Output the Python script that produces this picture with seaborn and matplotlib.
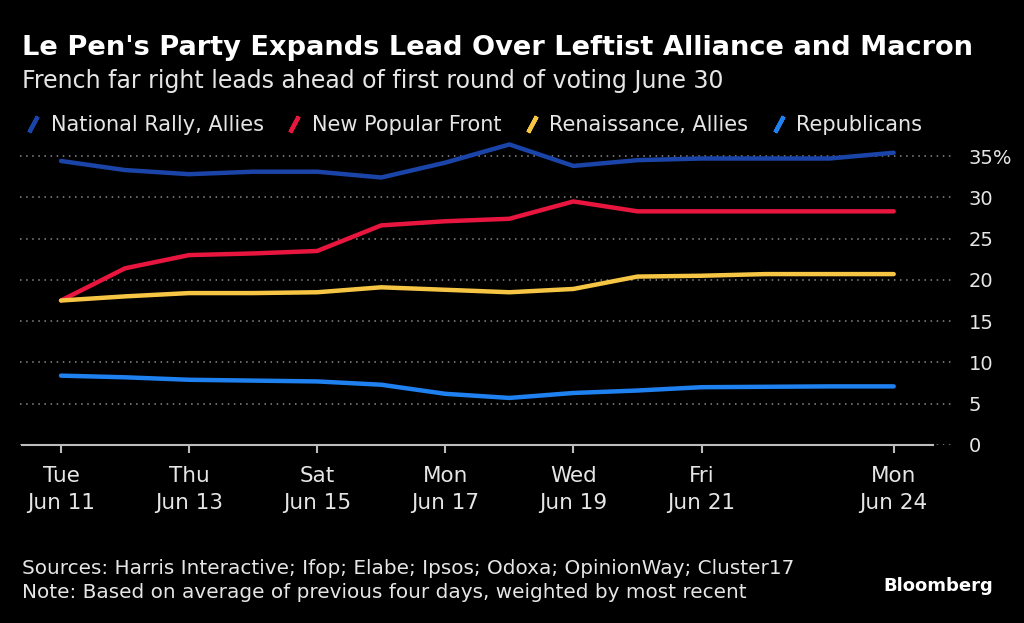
import numpy as np
import pandas as pd
import seaborn as sns
import matplotlib.pyplot as plt
import matplotlib.dates as mdates
from matplotlib.lines import Line2D

#%% data (poll average, %)
dates = pd.date_range("2024-06-11", "2024-06-24", freq="D")
national_rally = [34.4, 33.3, 32.8, 33.1, 33.1, 32.4, 34.2, 36.4, 33.8, 34.5, 34.7, 34.7, 34.7, 35.4]
new_popular_front = [17.5, 21.4, 23.0, 23.2, 23.5, 26.6, 27.1, 27.4, 29.5, 28.3, 28.3, 28.3, 28.3, 28.3]
renaissance = [17.5, 18.0, 18.4, 18.4, 18.5, 19.1, 18.8, 18.5, 18.9, 20.4, 20.5, 20.7, 20.7, 20.7]
republicans = [8.4, 8.2, 7.9, 7.8, 7.7, 7.3, 6.2, 5.7, 6.3, 6.6, 7.0, 7.05, 7.1, 7.1]

series = ["National Rally, Allies", "New Popular Front", "Renaissance, Allies", "Republicans"]
colors = ["#1b44a8", "#e8163f", "#f6c544", "#1f80f0"]
tick_dates = ["2024-06-11", "2024-06-13", "2024-06-15", "2024-06-17",
              "2024-06-19", "2024-06-21", "2024-06-24"]
y_ticks = [0, 5, 10, 15, 20, 25, 30, 35]

df = pd.DataFrame({
    "date": np.tile(dates, 4),
    "party": np.repeat(series, len(dates)),
    "value": national_rally + new_popular_front + renaissance + republicans,
})

#%% styling
sns.set_theme(style="dark")
plt.rcParams["font.family"] = ["DejaVu Sans"]
bg = "black"
txt = "#e6e6e6"

fig = plt.figure(figsize=(10.24, 6.23), dpi=100, facecolor=bg)
ax = fig.add_axes([20 / 1024, 1 - 445 / 623, 932 / 1024, 305 / 623])
ax.set_facecolor(bg)

sns.lineplot(data=df, x="date", y="value", hue="party", hue_order=series,
             palette=dict(zip(series, colors)), linewidth=3.2, legend=False,
             ax=ax, zorder=3)

# axes limits
x0 = mdates.date2num(dates[0])
x1 = mdates.date2num(dates[-1])
ax.set_xlim(x0 - 0.64, x1 + 0.91)
ax.set_ylim(0, 36.94)

# grid
for y in y_ticks:
    ax.axhline(y, color="#8a8a8a", lw=1.1, ls=(0, (1, 3)), zorder=1)

for s in ["top", "left", "right"]:
    ax.spines[s].set_visible(False)
ax.spines["bottom"].set_color("#bdbdbd")
ax.spines["bottom"].set_linewidth(1.5)
ax.spines["bottom"].set_bounds(x0 - 0.61, x1 + 0.62)
ax.spines["bottom"].set_zorder(2)

td = pd.to_datetime(tick_dates)
ax.set_xticks(mdates.date2num(td))
ax.set_xticklabels([f"{d:%a}\n{d:%b} {d.day}" for d in td],
                   color=txt, fontsize=15.5, linespacing=1.45)
ax.tick_params(axis="x", colors="#bdbdbd", length=6, width=1.5, pad=9,
               labelcolor=txt, bottom=True)

ax.yaxis.tick_right()
ax.set_yticks(y_ticks)
ax.set_yticklabels([f"{v}%" if v == 35 else str(v) for v in y_ticks],
                   color=txt, fontsize=14, ha="left")
ax.tick_params(axis="y", length=0, pad=12, right=False)
ax.set_xlabel("")
ax.set_ylabel("")
ax.grid(False)

# legend with slanted stroke markers
handles = [Line2D([], [], ls="none", marker=(2, 2, -28), markersize=13,
                  markeredgewidth=3, color=c) for c in colors]
fig.legend(handles, series, loc="center left", bbox_to_anchor=(24 / 1024, 1 - 125 / 623),
           ncol=4, frameon=False, fontsize=15, labelcolor=txt,
           handlelength=0.9, handletextpad=0.4, columnspacing=1.0,
           borderpad=0, borderaxespad=0)

# titles
fig.text(22 / 1024, 1 - 48 / 623, "Le Pen's Party Expands Lead Over Leftist Alliance and Macron",
         color="white", fontsize=19.6, fontweight="bold", va="center", ha="left")
fig.text(22 / 1024, 1 - 81 / 623, "French far right leads ahead of first round of voting June 30",
         color=txt, fontsize=17, va="center", ha="left")

# footer
fig.text(22 / 1024, 1 - 569 / 623,
         "Sources: Harris Interactive; Ifop; Elabe; Ipsos; Odoxa; OpinionWay; Cluster17",
         color=txt, fontsize=14.4, va="center", ha="left")
fig.text(22 / 1024, 1 - 592 / 623,
         "Note: Based on average of previous four days, weighted by most recent",
         color=txt, fontsize=14.4, va="center", ha="left")
fig.text(993 / 1024, 1 - 586 / 623, "Bloomberg", color="white", fontsize=13,
         fontweight="bold", va="center", ha="right")

fig.savefig("out.png", dpi=100, facecolor=bg)
